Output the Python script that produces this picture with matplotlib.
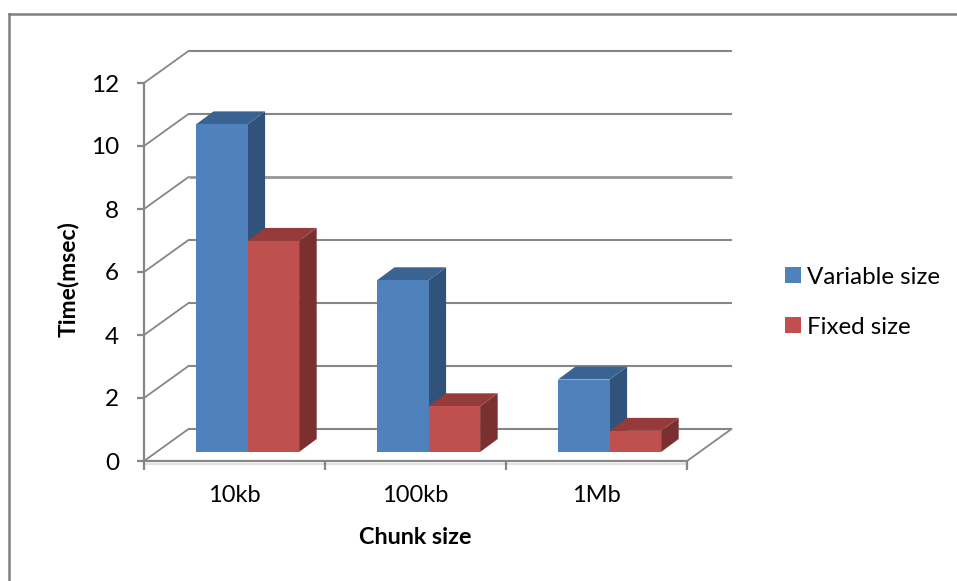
import matplotlib
matplotlib.use("Agg")
import matplotlib.pyplot as plt
from matplotlib.lines import Line2D
from matplotlib.patches import Polygon, Patch

categories = ["10kb", "100kb", "1Mb"]
variable_size = [10.4, 5.45, 2.3]
fixed_size = [6.7, 1.45, 0.67]
y_ticks = [0, 2, 4, 6, 8, 10, 12]

GRID = "#868686"
# front, top, side
BLUE = ("#4F81BD", "#3A6391", "#30527B")
RED = ("#C0504D", "#953B39", "#7A302E")

# depth of the fake 3d in data units
WALL_DX, WALL_DY = 0.246, 1.016
BAR_DX, BAR_DY = 0.097, 0.413
BAR_WIDTH = 0.285
BAR_START = 0.287
BAR_BASE = 0.286

W, H = 957, 581


def draw_box(ax, x, value, colors):
    y0 = BAR_BASE
    y1 = BAR_BASE + value
    x1 = x + BAR_WIDTH
    side = [(x1, y0), (x1 + BAR_DX, y0 + BAR_DY), (x1 + BAR_DX, y1 + BAR_DY), (x1, y1)]
    top = [(x, y1), (x + BAR_DX, y1 + BAR_DY), (x1 + BAR_DX, y1 + BAR_DY), (x1, y1)]
    ax.add_patch(Polygon(side, closed=True, fc=colors[2], ec="none", clip_on=False, zorder=3))
    ax.add_patch(Polygon(top, closed=True, fc=colors[1], ec="none", clip_on=False, zorder=3))
    ax.bar(x, value, BAR_WIDTH, bottom=y0, align="edge", color=colors[0], clip_on=False, zorder=3)


plt.rcParams["font.family"] = ["Lato", "DejaVu Sans"]

fig = plt.figure(figsize=(W / 100, H / 100), dpi=100)
ax = fig.add_axes([144 / W, (H - 461) / H, 543 / W, 378 / H])
ax.set_xlim(0, len(categories))
ax.set_ylim(0, 12)
ax.patch.set_visible(False)

for s in ["top", "right"]:
    ax.spines[s].set_visible(False)
for s in ["left", "bottom"]:
    ax.spines[s].set_color(GRID)
    ax.spines[s].set_linewidth(1.6)

ax.set_yticks(y_ticks)
ax.tick_params(axis="y", length=5, width=1.6, color=GRID, pad=13, labelsize=17.5, labelcolor="black")

# major ticks split the categories, labels sit on minor ticks
ax.set_xticks(range(len(categories) + 1))
ax.set_xticklabels([])
ax.tick_params(axis="x", which="major", length=6.5, width=1.6, color=GRID)
ax.set_xticks([i + 0.5 for i in range(len(categories))], minor=True)
ax.set_xticklabels(categories, minor=True)
ax.tick_params(axis="x", which="minor", length=0, pad=17, labelsize=17, labelcolor="black")

# walls
right = len(categories)
for v in y_ticks:
    ax.plot([0, WALL_DX], [v, v + WALL_DY], color=GRID, lw=1.3, clip_on=False, zorder=1)
    # the 8 line comes out heavier in the original
    lw = 2.0 if v == 8 else 1.5
    ax.plot([WALL_DX, right + WALL_DX], [v + WALL_DY, v + WALL_DY],
            color="#969696" if v == 8 else GRID, lw=lw, clip_on=False, zorder=1, solid_capstyle="butt")
ax.plot([right, right + WALL_DX], [0, WALL_DY], color=GRID, lw=1.3, clip_on=False, zorder=1)
# faint shadow under the floor edge
ax.plot([0, right], [-0.08, -0.08], color="#E2E2E2", lw=1.5, clip_on=False, zorder=1)

for i in range(len(categories)):
    x = i + BAR_START
    draw_box(ax, x, variable_size[i], BLUE)
    draw_box(ax, x + BAR_WIDTH, fixed_size[i], RED)

ax.set_xlabel("Chunk size", fontsize=16.8, fontweight="bold")
ax.xaxis.set_label_coords(0.499, -0.175)
ax.set_ylabel("Time(msec)", fontsize=16.5, fontweight="bold")
ax.yaxis.set_label_coords(-0.12, 0.48)

handles = [Patch(fc=BLUE[0], ec="none"), Patch(fc=RED[0], ec="none")]
ax.legend(handles, ["Variable size", "Fixed size"], loc="center left",
          bbox_to_anchor=(785 / W, (H - 302) / H), bbox_transform=fig.transFigure,
          frameon=False, fontsize=17.4, borderpad=0, borderaxespad=0,
          handlelength=0.66, handleheight=0.66, handletextpad=0.25, labelspacing=1.2)

# outer frame runs off the image on the right and bottom
fig.add_artist(Line2D([9 / W, 9 / W], [0, (H - 14) / H], color="#808080", lw=1.8))
fig.add_artist(Line2D([9 / W, 1], [(H - 14) / H, (H - 14) / H], color="#808080", lw=1.8))

fig.savefig("out.png", dpi=100)
